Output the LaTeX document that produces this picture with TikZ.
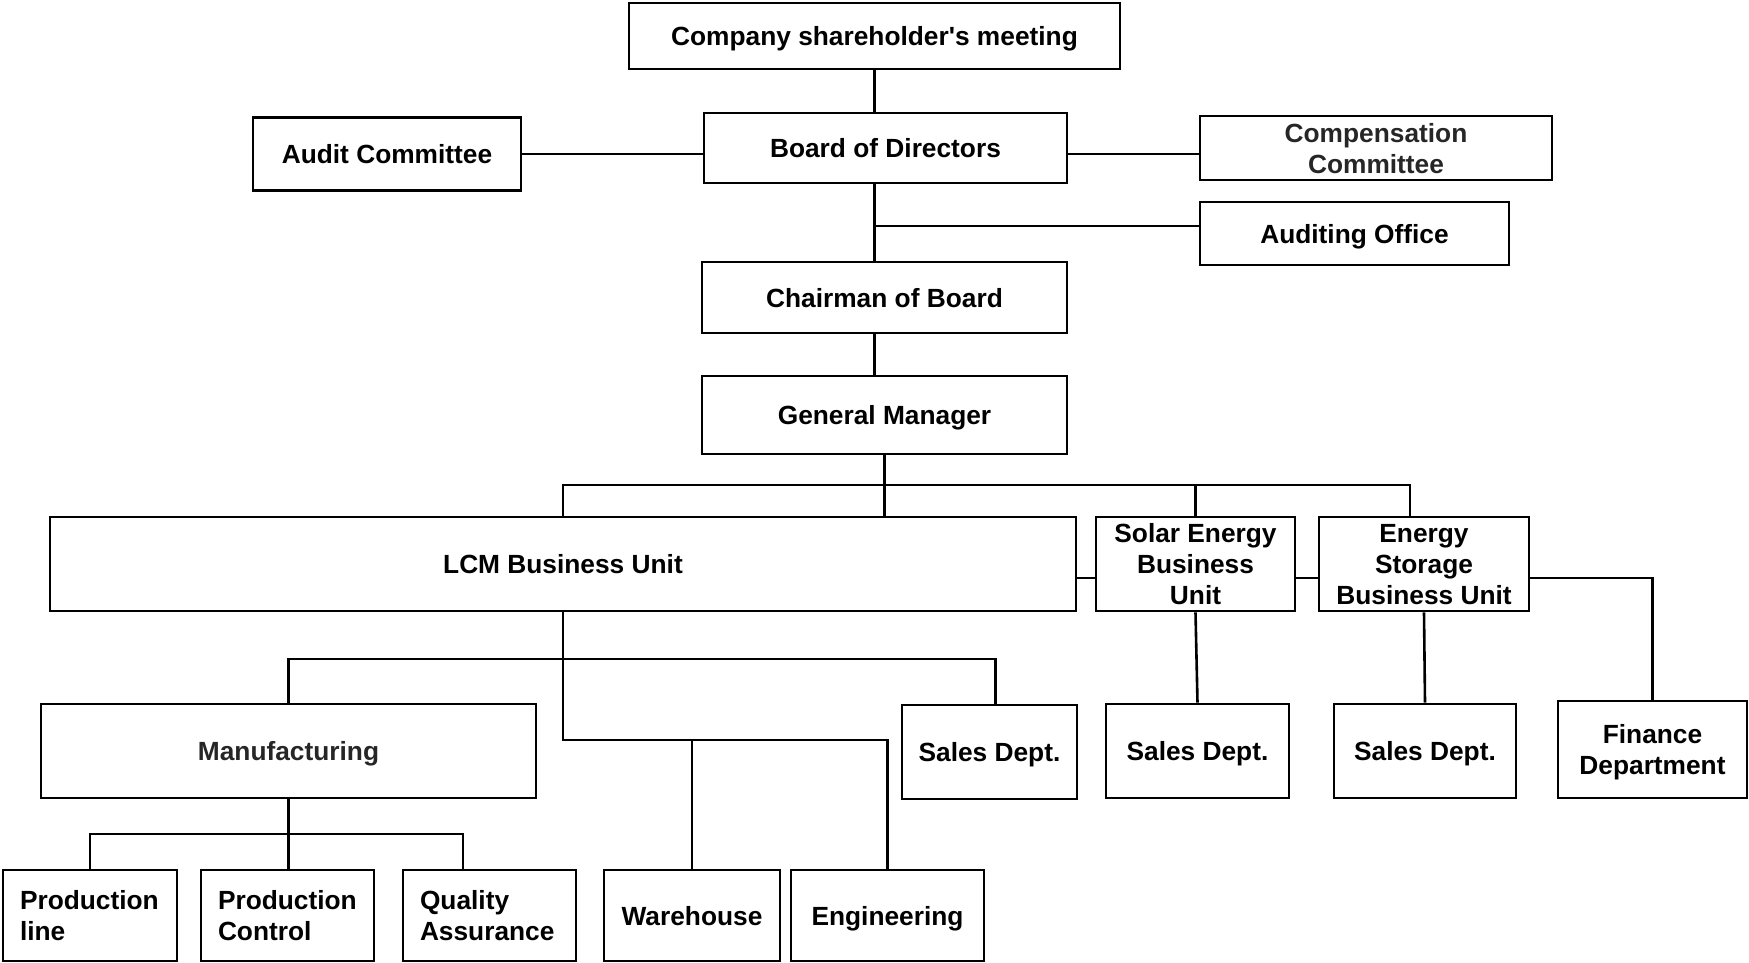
\documentclass[tikz,border=0pt]{standalone}
\usepackage{fontspec}
\setmainfont{Liberation Sans}[Ligatures=TeXOff]
\begin{document}
\begin{tikzpicture}[x=1pt, y=-1pt, line width=2.6pt,
  box/.style={draw, line width=2.8pt, inner sep=0pt, align=center, text depth=0pt,
    font=\fontsize{26.3}{31}\selectfont\bfseries},
  lbox/.style={box, align=left, text depth=}]
\useasboundingbox (0,0) rectangle (1749,963);
% top of the company
\node[box, minimum width=491pt, minimum height=66pt] (comp) at (874.5,36) {Company shareholder's meeting};
\node[box, minimum width=363pt, minimum height=70pt] (board) at (885.5,148) {Board of Directors};
\draw (comp.south) -- (comp.south |- board.north);
\node[box, minimum width=268pt, minimum height=73pt] (audit) at (387,154) {Audit Committee};
\draw (audit.east) -- (audit.east -| board.west);
\node[box, text=black!85, minimum width=352pt, minimum height=64pt] (compens) at (1376,148) {Compensation\\Committee};
\draw ([yshift=-6pt]board.east) -- ([yshift=-6pt]board.east -| compens.west);
\node[box, minimum width=309pt, minimum height=63pt] (auditoff) at (1354.5,233.5) {Auditing Office};
\node[box, minimum width=365pt, minimum height=71pt] (chair) at (884.5,297.5) {Chairman of Board};
\draw (comp.south |- board.south) -- (comp.south |- chair.north);
\draw ([yshift=7.5pt]auditoff.west) -- ([yshift=7.5pt]auditoff.west -| comp.south);
\node[box, minimum width=365pt, minimum height=78pt] (gm) at (884.5,415) {General Manager};
\draw (comp.south |- chair.south) -- (comp.south |- gm.north);
% business units
\coordinate (gmbus) at (884.5,485);
\node[box, minimum width=1026pt, minimum height=94pt] (lcm) at (563,564) {LCM Business Unit};
\node[box, minimum width=199pt, minimum height=94pt] (solar) at (1195.5,564) {Solar Energy\\Business\\Unit};
\node[box, minimum width=210pt, minimum height=94pt] (estor) at (1424,564) {Energy\\Storage\\Business Unit};
\draw (gm.south) -- (gm.south |- lcm.north);
\draw (lcm.north) -- (lcm.north |- gmbus) -- ([xshift=-14pt]estor.north |- gmbus) -- ([xshift=-14pt]estor.north);
\draw (solar.north) -- (solar.north |- gmbus);
\draw ([yshift=-14pt]lcm.east) -- ([yshift=-14pt]solar.west);
\draw ([yshift=-14pt]solar.east) -- ([yshift=-14pt]estor.west);
\node[box, minimum width=189pt, minimum height=97pt] (finance) at (1652.5,749.5) {Finance\\Department};
\draw ([yshift=-14pt]estor.east) -| (finance.north);
\node[box, minimum width=183pt, minimum height=94pt] (salessolar) at (1197.5,751) {Sales Dept.};
\draw (solar.south) -- (salessolar.north);
\node[box, minimum width=182pt, minimum height=94pt] (saleses) at (1425,751) {Sales Dept.};
\draw (estor.south) -- (saleses.north);
% LCM departments
\coordinate (lcmbus) at (563,659);
\node[box, text=black!85, minimum width=495pt, minimum height=94pt] (manuf) at (288.5,751) {Manufacturing};
\node[box, minimum width=175pt, minimum height=94pt] (saleslcm) at (989.5,752) {Sales Dept.};
\draw (lcm.south) -- (lcm.south |- lcmbus);
\draw (manuf.north) -- (manuf.north |- lcmbus) -- ([xshift=6pt]saleslcm.north |- lcmbus) -- ([xshift=6pt]saleslcm.north);
\coordinate (lcmlow) at (563,740);
\node[box, minimum width=176pt, minimum height=91pt] (wareh) at (692,915.5) {Warehouse};
\node[box, minimum width=193pt, minimum height=91pt] (eng) at (887.5,915.5) {Engineering};
\draw (lcm.south |- lcmbus) -- (lcmlow) -- (lcmlow -| eng.north) -- (eng.north);
\draw (wareh.north) -- (wareh.north |- lcmlow);
% manufacturing
\coordinate (manbus) at (288.5,834);
\node[lbox, text width=140pt, minimum width=174pt, minimum height=91pt] (prodline) at (90,915.5) {Production\\line};
\node[lbox, text width=139pt, minimum width=173pt, minimum height=91pt] (prodctrl) at (287.5,915.5) {Production\\Control};
\node[lbox, text width=139pt, minimum width=173pt, minimum height=91pt] (qa) at (489.5,915.5) {Quality\\Assurance};
\draw (manuf.south) -- (manuf.south |- prodctrl.north);
\draw (prodline.north) -- (prodline.north |- manbus) -- ([xshift=-26.5pt]qa.north |- manbus) -- ([xshift=-26.5pt]qa.north);
\end{tikzpicture}
\end{document}
